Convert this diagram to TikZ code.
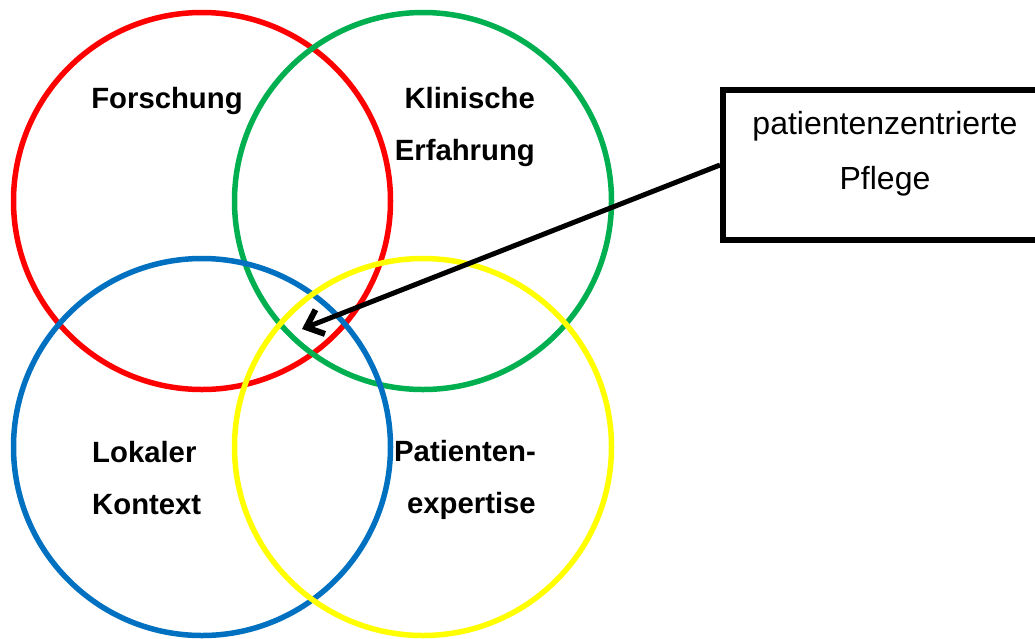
\documentclass[tikz,border=0pt]{standalone}
\usepackage{fontspec}
\setmainfont{Liberation Sans}
\usetikzlibrary{arrows.meta}
\definecolor{cred}{HTML}{FF0000}
\definecolor{cgreen}{HTML}{00B050}
\definecolor{cblue}{HTML}{0070C0}
\definecolor{cyellow}{HTML}{FFFF00}
\begin{document}
\begin{tikzpicture}[x=1pt,y=-1pt,
  ring/.style={circle, draw, line width=5.5pt, minimum size=377pt, inner sep=0pt},
  lbl/.style={font=\fontsize{29.3}{52}\selectfont\bfseries, inner sep=0pt},
  infobox/.style={draw, line width=6pt, minimum width=324pt, minimum height=150pt},
  boxtext/.style={align=center, inner sep=0pt, font=\fontsize{32}{55}\selectfont},
  pointer/.style={line width=5pt, -{Straight Barb[length=15pt, width=26pt, line width=6pt]}}]
\useasboundingbox (0,0) rectangle (1035,638);
\node[ring, draw=cred] (forsch) at (202,201) {};
\node[ring, draw=cgreen] (klin) at (423,201) {};
\node[ring, draw=cblue] (lokal) at (202,447) {};
\node[ring, draw=cyellow] (pat) at (423,447) {};
\node[lbl, anchor=base] (tf) at (167,108) {Forschung};
\node[lbl, anchor=base east, align=right] (tk) at (535,160) {Klinische\\Erfahrung};
\node[lbl, anchor=base west, align=left] (tl) at (92,514) {Lokaler\\Kontext};
\node[lbl, anchor=base east, align=right] (tp) at (536,513) {Patienten-\\expertise};
\node[infobox] (box) at (885,165) {};
\node[boxtext, anchor=base] (bt) at (885,189) {patientenzentrierte\\Pflege};
\coordinate (tip) at (302,329);
\draw[pointer] (box.west) -- (tip);
\end{tikzpicture}
\end{document}
